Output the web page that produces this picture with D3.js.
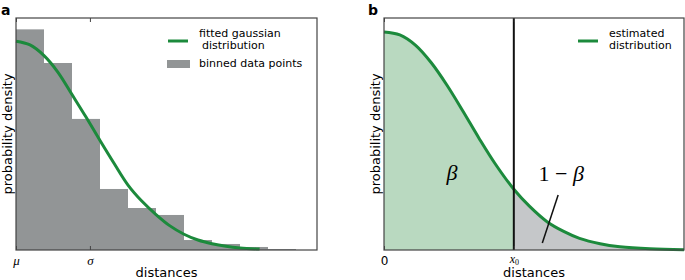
<!DOCTYPE html>
<html>
<head>
<meta charset="utf-8">
<script src="https://cdn.jsdelivr.net/npm/d3@7"></script>
<style>
  body { margin: 0; background: #fff; }
  svg { font-family: "DejaVu Sans", sans-serif; }
  .math { font-family: "Liberation Serif", "DejaVu Serif", serif; font-style: italic; }
  .upright { font-style: normal; }
</style>
</head>
<body>
<svg id="chart"></svg>
<script>
// ---- data ----
// panel a: histogram (bin starts, bin width 1) and fitted gaussian
const binStarts = [0, 1, 2, 3, 4, 5, 6, 7, 8, 9];
const binDensity = [0.951, 0.806, 0.565, 0.263, 0.181, 0.151, 0.043, 0.026, 0.013, 0.004];
const fitX = [0, 0.5, 1, 1.5, 2, 2.5, 3, 3.5, 4, 4.5, 5, 5.5, 6, 6.5, 7, 7.5, 8, 8.7];
const fitY = [0.900, 0.884, 0.838, 0.766, 0.670, 0.573, 0.472, 0.374, 0.280, 0.210, 0.153, 0.104, 0.068, 0.043, 0.027, 0.016, 0.009, 0.004];
const ticksA = [0, 2.64];
const tickLabelsA = ["μ", "σ"];

// panel b: estimated distribution, split at x0
const estX = [0, 0.2, 0.4, 0.6, 0.8, 1.0, 1.2, 1.4, 1.64, 1.84, 2.06, 2.27, 2.47, 2.73, 2.98, 3.36, 3.79];
const estY = [0.940, 0.927, 0.882, 0.806, 0.708, 0.597, 0.482, 0.374, 0.262, 0.188, 0.122, 0.080, 0.050, 0.027, 0.014, 0.005, 0.001];
const x0 = 1.64;
const ticksB = [0, x0];
const tickLabelsB = ["0", "x0"];

const green = "#1c8a3c";

const svg = d3.select("#chart").attr("width", 685).attr("height", 280);

class Panel {
  constructor(_config) {
    this.config = {
      left: _config.left,
      right: _config.right,
      top: _config.top || 18,
      bottom: _config.bottom || 250,
      xDomain: _config.xDomain,
      letter: _config.letter
    };
    this.initVis();
  }

  initVis() {
    let vis = this;
    vis.width = vis.config.right - vis.config.left;
    vis.height = vis.config.bottom - vis.config.top;

    vis.xScale = d3.scaleLinear().domain(vis.config.xDomain).range([0, vis.width]);
    vis.yScale = d3.scaleLinear().domain([0, 1]).range([vis.height, 0]);

    vis.chart = svg.append("g")
      .attr("transform", `translate(${vis.config.left},${vis.config.top})`);

    vis.marks = vis.chart.append("g");

    vis.line = d3.line()
      .x(d => vis.xScale(d[0]))
      .y(d => vis.yScale(d[1]))
      .curve(d3.curveCatmullRom);

    vis.area = d3.area()
      .x(d => vis.xScale(d[0]))
      .y0(vis.yScale(0))
      .y1(d => vis.yScale(d[1]))
      .curve(d3.curveCatmullRom);

    // axis labels
    vis.chart.append("text")
      .attr("x", vis.width / 2)
      .attr("y", vis.height + 27)
      .attr("text-anchor", "middle")
      .style("font-size", "13px")
      .text("distances");

    vis.chart.append("text")
      .attr("transform", "rotate(-90)")
      .attr("x", -vis.height / 2)
      .attr("y", -4)
      .attr("text-anchor", "middle")
      .style("font-size", "13px")
      .text("probability density");

    // panel letter
    vis.chart.append("text")
      .attr("x", vis.config.letter === "a" ? -15 : -16)
      .attr("y", -3)
      .style("font-size", "14px")
      .style("font-weight", "bold")
      .text(vis.config.letter);
  }

  drawFrame(tickValues, tickLabels) {
    let vis = this;
    let xAxis = d3.axisBottom(vis.xScale)
      .tickValues(tickValues)
      .tickSizeInner(-4)
      .tickSizeOuter(0)
      .tickPadding(4)
      .tickFormat((d, i) => tickLabels[i]);

    let xAxisG = vis.chart.append("g")
      .attr("transform", `translate(0,${vis.height})`)
      .call(xAxis);
    xAxisG.select(".domain").remove();
    xAxisG.selectAll("line").attr("stroke", "#444");

    let xTop = vis.chart.append("g")
      .call(d3.axisTop(vis.xScale).tickValues(tickValues).tickSizeInner(-4).tickSizeOuter(0).tickFormat(""));
    xTop.select(".domain").remove();
    xTop.selectAll("line").attr("stroke", "#444");

    // tick labels: math in italic serif, "0" stays plain
    xAxisG.selectAll(".tick text").each(function (d, i) {
      let t = d3.select(this).attr("fill", "#000");
      let lab = tickLabels[i];
      if (lab === "0") {
        t.style("font-size", "12px").style("font-family", "DejaVu Sans").attr("dy", "0.9em");
      } else if (lab === "x0") {
        t.text(null).attr("class", "math").style("font-size", "12px");
        t.append("tspan").text("x");
        t.append("tspan").attr("dy", 2).style("font-size", "8px").attr("class", "upright").text("0");
      } else {
        t.attr("class", "math").style("font-size", "13px").attr("dy", "0.85em");
      }
    });

    vis.chart.append("rect")
      .attr("width", vis.width)
      .attr("height", vis.height)
      .attr("fill", "none")
      .attr("stroke", "#444")
      .attr("stroke-width", 1.2);
  }
}

// ---------- panel a ----------
const panelA = new Panel({ left: 16, right: 317, xDomain: [0, 10.75], letter: "a" });

panelA.marks.selectAll(".bin")
  .data(binStarts)
  .join("rect")
  .attr("class", "bin")
  .attr("x", d => panelA.xScale(d))
  .attr("width", d => panelA.xScale(d + 1) - panelA.xScale(d))
  .attr("y", (d, i) => panelA.yScale(binDensity[i]))
  .attr("height", (d, i) => panelA.yScale(0) - panelA.yScale(binDensity[i]))
  .attr("fill", "#929596");

panelA.marks.append("path")
  .datum(fitX.map((x, i) => [x, fitY[i]]))
  .attr("d", panelA.line)
  .attr("fill", "none")
  .attr("stroke", green)
  .attr("stroke-width", 3);

panelA.drawFrame(ticksA, tickLabelsA);

// legend a
const legA = panelA.chart.append("g").attr("transform", "translate(151,0)");
legA.append("line").attr("x1", 1).attr("x2", 21).attr("y1", 23).attr("y2", 23)
  .attr("stroke", green).attr("stroke-width", 3);
legA.append("text").attr("x", 32).attr("y", 19).style("font-size", "11px").text("fitted gaussian");
legA.append("text").attr("x", 35).attr("y", 31).style("font-size", "11px").text("distribution");
legA.append("rect").attr("x", 0).attr("y", 42).attr("width", 23).attr("height", 8).attr("fill", "#929596");
legA.append("text").attr("x", 32).attr("y", 49).style("font-size", "11px").text("binned data points");

// ---------- panel b ----------
const panelB = new Panel({ left: 384, right: 684, xDomain: [0, 3.79], letter: "b" });
const estPts = estX.map((x, i) => [x, estY[i]]);

panelB.marks.append("path")
  .datum(estPts.filter(d => d[0] <= x0))
  .attr("d", panelB.area)
  .attr("fill", "#b9d9c0");

panelB.marks.append("path")
  .datum(estPts.filter(d => d[0] >= x0))
  .attr("d", panelB.area)
  .attr("fill", "#c5c7c9");

panelB.marks.append("path")
  .datum(estPts)
  .attr("d", panelB.line)
  .attr("fill", "none")
  .attr("stroke", green)
  .attr("stroke-width", 3);

panelB.marks.append("line")
  .attr("x1", panelB.xScale(x0)).attr("x2", panelB.xScale(x0))
  .attr("y1", 0).attr("y2", panelB.height)
  .attr("stroke", "#111").attr("stroke-width", 2);

// annotation pointer for 1 - beta
panelB.marks.append("line")
  .attr("x1", panelB.xScale(2.0)).attr("y1", panelB.yScale(0.030))
  .attr("x2", panelB.xScale(2.2)).attr("y2", panelB.yScale(0.237))
  .attr("stroke", "#111").attr("stroke-width", 1.5);

panelB.chart.append("text")
  .attr("x", panelB.xScale(0.86)).attr("y", 162)
  .attr("text-anchor", "middle")
  .attr("class", "math")
  .style("font-size", "22px")
  .text("β");

const oneMinus = panelB.chart.append("text")
  .attr("x", panelB.xScale(2.24)).attr("y", 163)
  .attr("text-anchor", "middle")
  .attr("class", "math")
  .style("font-size", "22px");
oneMinus.append("tspan").attr("class", "upright").text("1 − ");
oneMinus.append("tspan").text("β");

panelB.drawFrame(ticksB, tickLabelsB);

// legend b
const legB = panelB.chart.append("g").attr("transform", "translate(194,0)");
legB.append("line").attr("x1", 0).attr("x2", 20).attr("y1", 23).attr("y2", 23)
  .attr("stroke", green).attr("stroke-width", 3);
legB.append("text").attr("x", 31).attr("y", 19).style("font-size", "11px").text("estimated");
legB.append("text").attr("x", 31).attr("y", 31).style("font-size", "11px").text("distribution");
</script>
</body>
</html>
